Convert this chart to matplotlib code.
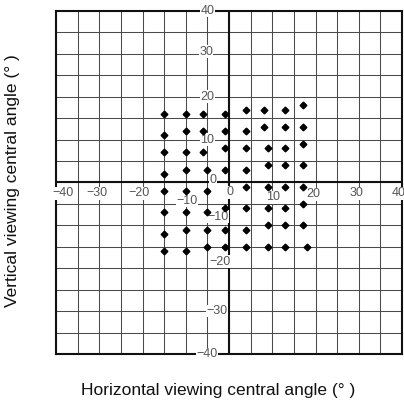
import numpy as np
import matplotlib.pyplot as plt

plt.rcParams['font.family'] = ['Liberation Sans', 'DejaVu Sans']

# measured points, grouped by column (horizontal angle)
col_x = [-15, -10, -6, -5, -1, 4, 8, 9, 13, 17, 18]
col_y = [
    [16, 11, 7, 2, -2, -7, -12, -16],
    [16, 12, 7, 3, -2, -7, -11, -16],
    [16, 12, 7],
    [3, -2, -7, -11, -15],
    [16, 12, 8, 3, -6, -11, -15],
    [17, 12, 8, 3, -1, -6, -11, -15],
    [17, 13],
    [8, 4, -1, -6, -10, -15],
    [17, 13, 8, 4, -1, -6, -10, -15],
    [18, 13, 9, 4, -1, -5, -10],
    [-15],
]

tick_vals = [-40, -30, -20, -10, 0, 10, 20, 30, 40]
tick_text = ['\u221240', '\u221230', '\u221220', '\u221210', '0', '10', '20', '30', '40']

xs = []
ys = []
for x, yl in zip(col_x, col_y):
    for y in yl:
        xs.append(x)
        ys.append(y)

fig = plt.figure(figsize=(4.04, 4.05), dpi=100)
ax = fig.add_axes([0.139, 0.126, 0.856, 0.847])
ax.set_xlim(-40, 40)
ax.set_ylim(-40, 40)

# grid every 5 degrees
ax.set_xticks(np.arange(-40, 41, 5))
ax.set_yticks(np.arange(-40, 41, 5))
ax.grid(True, color='#4a4a4a', lw=0.75)
ax.tick_params(length=0, labelbottom=False, labelleft=False)
for s in ax.spines.values():
    s.set_linewidth(1.5)
    s.set_color('#111111')
ax.axhline(0, color='#111111', lw=1.5)
ax.axvline(0, color='#111111', lw=1.5)

ax.plot(xs, ys, 'D', color='black', ms=3.4, zorder=5)

# tick labels along the centre axes (placed as in the original)
xl_pos = [(-38.5, -2.5), (-30.5, -2.5), (-20.8, -2.5), (-9.8, -4.3), (0.2, -2.3),
          (10.2, -3.5), (19.4, -2.8), (29.5, -2.5), (39.2, -2.5)]
yl_pos = [(-5, -40), (-2.8, -30), (-2.2, -18.5), (-2.5, -8), (-3.8, 0.6),
          (-5, 10), (-5, 20), (-5.3, 30.5), (-5, 40)]
bb = dict(facecolor='white', edgecolor='none', pad=0.3)
for (px, py), t in zip(xl_pos, tick_text):
    ax.text(px, py, t, ha='center', va='center', fontsize=9, color='#555555',
            bbox=bb, zorder=4, clip_on=False)
for (px, py), t in zip(yl_pos, tick_text):
    ax.text(px, py, t, ha='center', va='center', fontsize=9, color='#555555',
            bbox=bb, zorder=4, clip_on=False)

fig.text(0.03, 0.553, 'Vertical viewing central angle (\u00b0 )', rotation=90,
         ha='center', va='center', fontsize=12.5, color='#111111')
fig.text(0.54, 0.037, 'Horizontal viewing central angle (\u00b0 )',
         ha='center', va='center', fontsize=12.5, color='#111111')

fig.savefig('out.png', dpi=100)
